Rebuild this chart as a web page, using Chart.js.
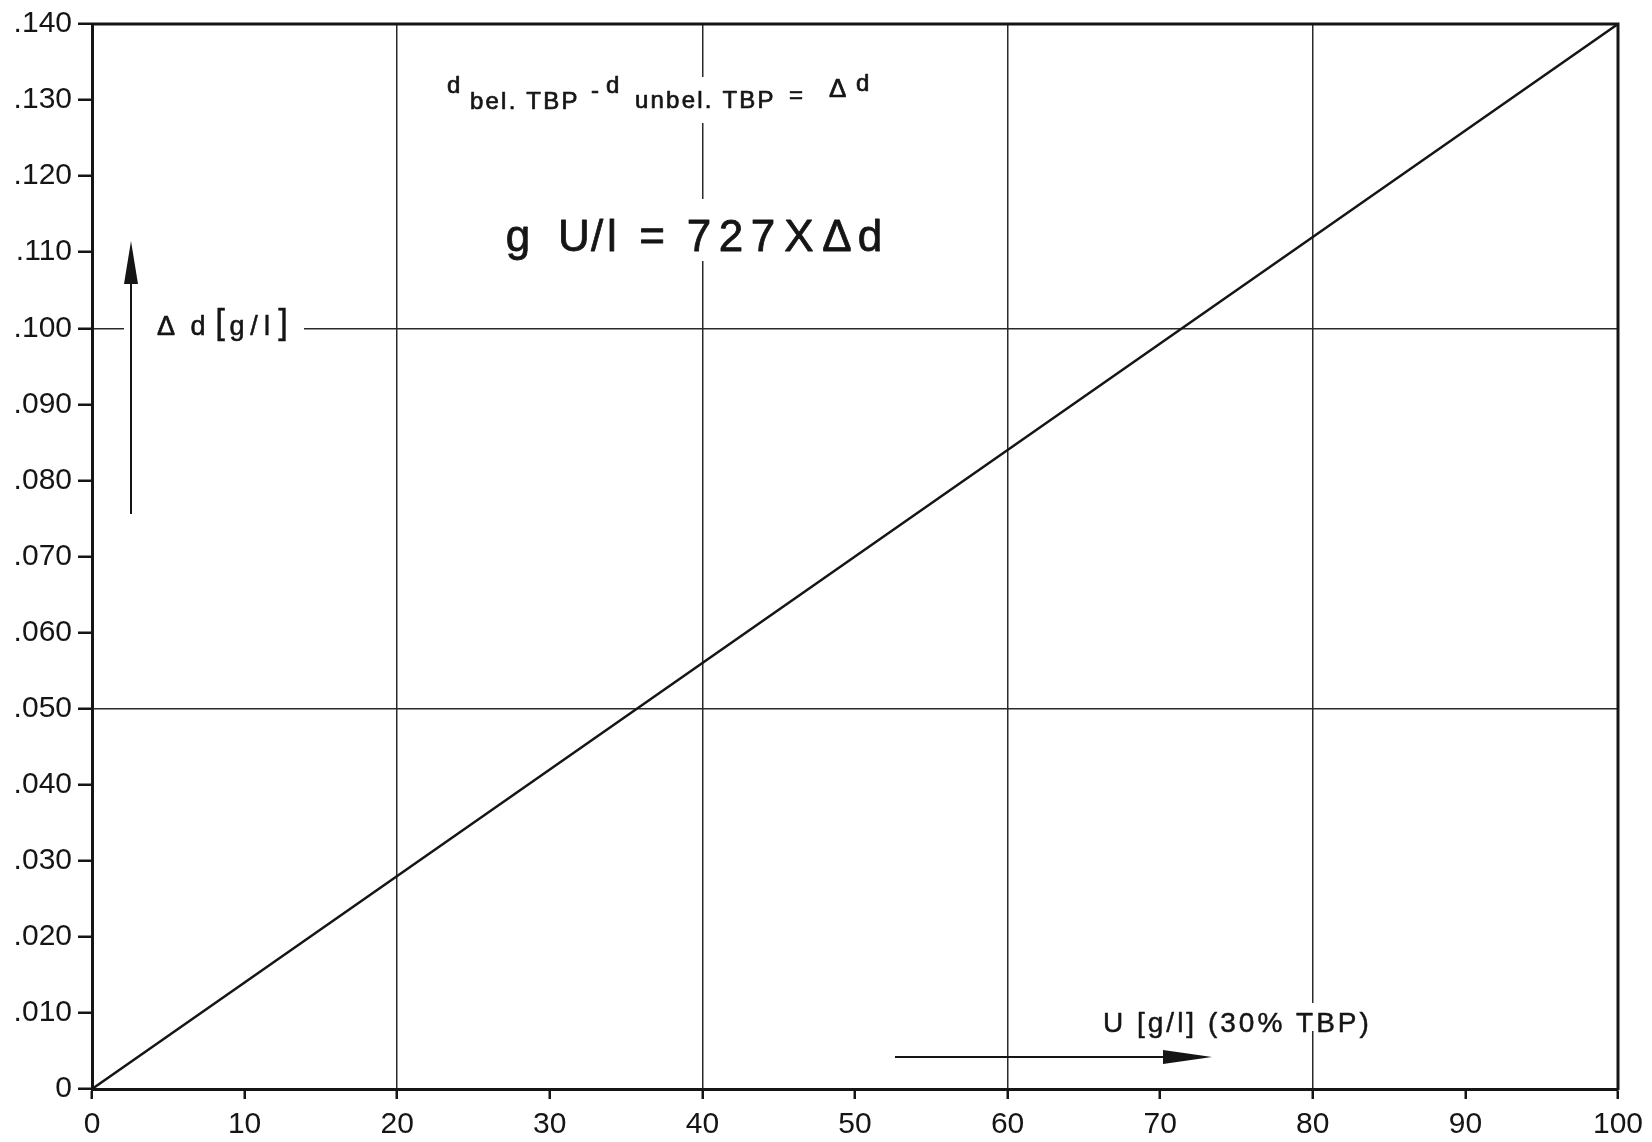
<!DOCTYPE html>
<html>
<head>
<meta charset="utf-8">
<script src="https://cdn.jsdelivr.net/npm/chart.js@4.4.1/dist/chart.umd.min.js"></script>
<style>
  html, body { margin: 0; padding: 0; background: #ffffff; }
  #wrap { width: 1652px; height: 1142px; }
</style>
</head>
<body>
<div id="wrap"><canvas id="c" width="1652" height="1142"></canvas></div>
<script>
// ---- data ----
const uValues = [0, 10, 20, 30, 40, 50, 60, 70, 80, 90, 100];
const deltaD  = [0, 0.014, 0.028, 0.042, 0.056, 0.070, 0.084, 0.098, 0.112, 0.126, 0.140];

const xTickValues = [0, 10, 20, 30, 40, 50, 60, 70, 80, 90, 100];
const xTickLabels = ['0', '10', '20', '30', '40', '50', '60', '70', '80', '90', '100'];
const yTickValues = [0, 0.01, 0.02, 0.03, 0.04, 0.05, 0.06, 0.07, 0.08, 0.09, 0.10, 0.11, 0.12, 0.13, 0.14];
const yTickLabels = ['0', '.010', '.020', '.030', '.040', '.050', '.060', '.070', '.080', '.090', '.100', '.110', '.120', '.130', '.140'];
const xGridValues = [20, 40, 60, 80];
const yGridValues = [0.05, 0.10];

const INK = '#151515';
const GRID = '#2a2a2a';
const TICK_FONT = '"Liberation Sans Narrow", "Liberation Sans", sans-serif';
const TEXT_FONT = '"Liberation Sans", "DejaVu Sans", sans-serif';

function isIn(v, arr) { return arr.some(a => Math.abs(a - v) < 1e-9); }

function txt(ctx, s, x, y, size, spacing, align, thick) {
  ctx.font = size + 'px ' + TEXT_FONT;
  ctx.letterSpacing = (spacing || 0) + 'px';
  ctx.textAlign = align || 'left';
  ctx.textBaseline = 'alphabetic';
  ctx.fillText(s, x, y);
  if (thick) {
    ctx.lineWidth = thick;
    ctx.lineJoin = 'round';
    ctx.strokeText(s, x, y);
  }
  ctx.letterSpacing = '0px';
}

const bgPlugin = {
  id: 'bg',
  beforeDraw(chart) {
    const ctx = chart.ctx;
    ctx.save();
    ctx.fillStyle = '#ffffff';
    ctx.fillRect(0, 0, chart.width, chart.height);
    ctx.restore();
  }
};

// white gaps in the grid behind the hand lettering
const gapPlugin = {
  id: 'gaps',
  beforeDatasetsDraw(chart) {
    const ctx = chart.ctx;
    ctx.save();
    ctx.fillStyle = '#ffffff';
    ctx.fillRect(124, 316, 180, 24);    // around "Δ d [g/l]"
    ctx.fillRect(440, 77, 445, 46);     // upper formula
    ctx.fillRect(495, 199, 395, 62);    // big formula
    ctx.fillRect(1098, 1003, 276, 28);  // x-axis caption
    ctx.restore();
  }
};

const notePlugin = {
  id: 'notes',
  afterDraw(chart) {
    const ctx = chart.ctx;
    const a = chart.chartArea;
    ctx.save();
    ctx.fillStyle = INK;
    ctx.strokeStyle = INK;

    // top and right frame lines
    ctx.lineWidth = 3;
    ctx.beginPath();
    ctx.moveTo(a.left - 1, a.top);
    ctx.lineTo(a.right, a.top);
    ctx.lineTo(a.right, a.bottom + 1);
    ctx.stroke();

    // upper formula: d_bel.TBP - d_unbel.TBP = Δd
    txt(ctx, 'd', 447, 93, 24, 0, 'left', 0.7);
    txt(ctx, 'bel. TBP', 470, 109, 24, 2.2, 'left', 0.7);
    txt(ctx, '-', 591, 98, 24, 0, 'left', 0.7);
    txt(ctx, 'd', 606, 93, 24, 0, 'left', 0.7);
    txt(ctx, 'unbel. TBP', 635, 108, 24, 2.2, 'left', 0.7);
    txt(ctx, '=', 789, 103, 24, 0, 'left', 0.7);
    txt(ctx, 'Δ', 829, 97, 26, 0, 'left', 0.7);
    txt(ctx, 'd', 856, 91, 24, 0, 'left', 0.7);

    // big formula
    const big = [['g', 518], ['U', 574], ['/', 597], ['l', 612], ['=', 652],
                 ['7', 699], ['2', 731], ['7', 763], ['X', 799], ['Δ', 837], ['d', 870]];
    big.forEach(([ch, x]) => txt(ctx, ch, x, 251, 44, 0, 'center', 0.8));

    // y caption
    txt(ctx, 'Δ', 166, 335, 27, 0, 'center', 0.7);
    const yc = [['d', 198], ['g', 237], ['/', 254], ['l', 267]];
    yc.forEach(([ch, x]) => txt(ctx, ch, x, 335, 27, 0, 'center', 0.6));
    txt(ctx, '[', 220, 334, 35, 0, 'center', 0.4);
    txt(ctx, ']', 283, 334, 35, 0, 'center', 0.4);

    // x caption
    txt(ctx, 'U [g/l] (30% TBP)', 1103, 1032, 28, 3, 'left', 0.5);

    // vertical arrow
    ctx.lineWidth = 2;
    ctx.beginPath();
    ctx.moveTo(131, 514);
    ctx.lineTo(131, 270);
    ctx.stroke();
    ctx.beginPath();
    ctx.moveTo(131, 241);
    ctx.lineTo(138, 284);
    ctx.lineTo(124, 284);
    ctx.closePath();
    ctx.fill();

    // horizontal arrow
    ctx.beginPath();
    ctx.moveTo(895, 1057);
    ctx.lineTo(1180, 1057);
    ctx.stroke();
    ctx.beginPath();
    ctx.moveTo(1212, 1057);
    ctx.lineTo(1163, 1050);
    ctx.lineTo(1163, 1064);
    ctx.closePath();
    ctx.fill();

    ctx.restore();
  }
};

new Chart(document.getElementById('c'), {
  type: 'line',
  data: {
    datasets: [{
      data: uValues.map((u, i) => ({ x: u, y: deltaD[i] })),
      borderColor: INK,
      borderWidth: 2.5,
      pointRadius: 0,
      tension: 0,
      fill: false
    }]
  },
  options: {
    responsive: false,
    animation: false,
    devicePixelRatio: 1,
    layout: { padding: { top: 24, right: 34, left: 0, bottom: 0 } },
    plugins: { legend: { display: false }, tooltip: { enabled: false } },
    scales: {
      x: {
        type: 'linear',
        min: 0, max: 100,
        afterBuildTicks: s => { s.ticks = xTickValues.map(v => ({ value: v })); },
        afterFit: s => { s.height = 53; },
        ticks: {
          callback: (v, i) => xTickLabels[i],
          color: INK,
          font: { family: TICK_FONT, size: 30 },
          padding: 8,
          maxRotation: 0,
          autoSkip: false
        },
        grid: {
          color: c => (c.tick && isIn(c.tick.value, xGridValues)) ? GRID : 'rgba(0,0,0,0)',
          lineWidth: 1.5,
          tickColor: INK,
          tickWidth: 2.5,
          tickLength: 10
        },
        border: { display: true, color: INK, width: 3 }
      },
      y: {
        type: 'linear',
        min: 0, max: 0.14,
        afterBuildTicks: s => { s.ticks = yTickValues.map(v => ({ value: v })); },
        afterFit: s => { s.width = 92; },
        ticks: {
          callback: (v, i) => yTickLabels[i],
          color: INK,
          font: { family: TICK_FONT, size: 30 },
          padding: 6,
          autoSkip: false
        },
        grid: {
          color: c => (c.tick && isIn(c.tick.value, yGridValues)) ? GRID : 'rgba(0,0,0,0)',
          lineWidth: 1.5,
          tickColor: INK,
          tickWidth: 2.5,
          tickLength: 14
        },
        border: { display: true, color: INK, width: 3 }
      }
    }
  },
  plugins: [bgPlugin, gapPlugin, notePlugin]
});
</script>
</body>
</html>
